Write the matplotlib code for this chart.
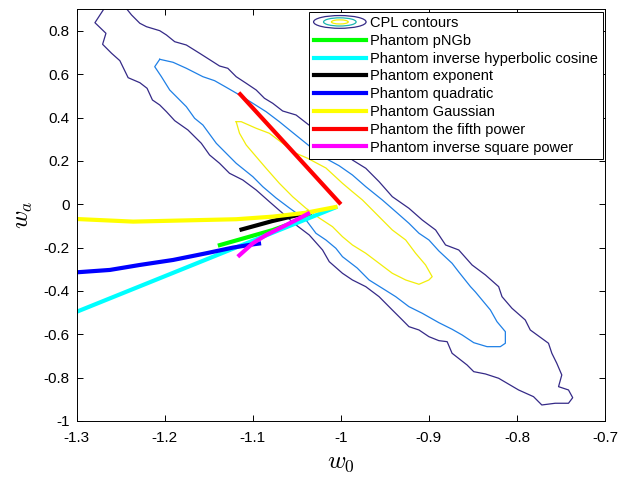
import matplotlib
matplotlib.use("Agg")
import matplotlib.pyplot as plt
from matplotlib.patches import Ellipse
from matplotlib.legend_handler import HandlerBase
from matplotlib.lines import Line2D

plt.rcParams["font.family"] = ["Liberation Sans", "DejaVu Sans"]
plt.rcParams["mathtext.fontset"] = "cm"
plt.rcParams["axes.unicode_minus"] = False

# ---- CPL contours (w0, wa) ----
outer_w0 = [-1.2699, -1.2487, -1.2377, -1.2283, -1.2208, -1.2057, -1.1981, -1.1887,
            -1.1755, -1.1604, -1.1454, -1.1378, -1.1284, -1.1189, -1.1075, -1.0962,
            -1.0868, -1.0774, -1.0661, -1.0509, -1.0378, -1.0132, -0.9869, -0.9717,
            -0.9566, -0.9416, -0.9227, -0.9076, -0.8924, -0.8811, -0.8661, -0.8510,
            -0.8358, -0.8208, -0.8170, -0.8057, -0.7906, -0.7849, -0.7642, -0.7604,
            -0.7548, -0.7491, -0.7528, -0.7415, -0.7367, -0.7415, -0.7566, -0.7718,
            -0.7812, -0.7982, -0.8208, -0.8358, -0.8491, -0.8567, -0.8737, -0.8793,
            -0.8887, -0.9000, -0.9113, -0.9227, -0.9302, -0.9416, -0.9566, -0.9717,
            -0.9869, -0.9982, -1.0132, -1.0208, -1.0359, -1.0509, -1.0661, -1.0812,
            -1.0962, -1.1114, -1.1265, -1.1378, -1.1491, -1.1585, -1.1737, -1.1887,
            -1.1981, -1.2057, -1.2140, -1.2201, -1.2283, -1.2416, -1.2510, -1.2604,
            -1.2706, -1.2668, -1.2793, -1.2699, -1.2699]
outer_wa = [0.929, 0.929, 0.8736, 0.8353, 0.8196, 0.8011, 0.7813, 0.7503,
            0.7351, 0.6968, 0.6580, 0.6382, 0.6276, 0.5888, 0.5584, 0.5275,
            0.4892, 0.4661, 0.4305, 0.4121, 0.3706, 0.2967, 0.2044, 0.1661,
            0.1043, 0.0351, -0.0185, -0.0725, -0.1186, -0.1878, -0.2109, -0.2801,
            -0.3263, -0.3802, -0.4264, -0.4799, -0.5339, -0.5801, -0.6414, -0.6876,
            -0.7337, -0.7877, -0.8417, -0.8569, -0.8925, -0.9183, -0.9183, -0.9262,
            -0.8879, -0.8569, -0.8030, -0.7831, -0.7725, -0.7416, -0.6876, -0.6341,
            -0.6294, -0.6110, -0.5801, -0.5648, -0.5339, -0.4878, -0.4264, -0.3802,
            -0.3493, -0.3184, -0.2649, -0.2109, -0.1417, -0.0955, -0.0415, 0.0120,
            0.0660, 0.1121, 0.1431, 0.1892, 0.2275, 0.2815, 0.3429, 0.3858,
            0.4273, 0.4582, 0.4813, 0.5353, 0.5611, 0.5842, 0.6627, 0.6968,
            0.7383, 0.7891, 0.8380, 0.8966, 0.929]

mid_w0 = [-1.2057, -1.1906, -1.1755, -1.1567, -1.1434, -1.1302, -1.1151, -1.1000,
          -1.0849, -1.0699, -1.0548, -1.0396, -1.0208, -1.0019, -0.9869, -0.9717,
          -0.9529, -0.9377, -0.9227, -0.9113, -0.9000, -0.8887, -0.8737, -0.8661,
          -0.8528, -0.8472, -0.8302, -0.8227, -0.8132, -0.8132, -0.8189, -0.8340,
          -0.8491, -0.8623, -0.8737, -0.8887, -0.9076, -0.9227, -0.9377, -0.9529,
          -0.9680, -0.9815, -0.9982, -1.0057, -1.0170, -1.0283, -1.0396, -1.0585,
          -1.0736, -1.0887, -1.1000, -1.1189, -1.1302, -1.1415, -1.1567, -1.1661,
          -1.1755, -1.1850, -1.1944, -1.2038, -1.2114, -1.2057]
mid_wa = [0.6691, 0.6553, 0.6276, 0.5888, 0.5704, 0.5399, 0.5044, 0.4661,
          0.4273, 0.3812, 0.3313, 0.2815, 0.2197, 0.1777, 0.1352, 0.0812,
          0.0198, -0.0341, -0.0877, -0.1338, -0.1647, -0.2155, -0.2723, -0.3124,
          -0.3802, -0.4047, -0.4878, -0.5418, -0.5879, -0.6414, -0.6571, -0.6571,
          -0.6387, -0.6031, -0.5768, -0.5464, -0.5030, -0.4725, -0.4264, -0.3876,
          -0.3493, -0.2940, -0.2418, -0.2030, -0.1647, -0.1338, -0.0725, -0.0171,
          0.0291, 0.0812, 0.1274, 0.1892, 0.2353, 0.2815, 0.3659, 0.3969,
          0.4504, 0.4892, 0.5275, 0.5888, 0.6350, 0.6691]

inner_w0 = [-1.1189, -1.1132, -1.0962, -1.0812, -1.0661, -1.0509, -1.0378, -1.0170,
            -0.9982, -0.9869, -0.9755, -0.9642, -0.9529, -0.9416, -0.9264, -0.9151,
            -0.9038, -0.8963, -0.9000, -0.9113, -0.9264, -0.9416, -0.9566, -0.9717,
            -0.9869, -0.9982, -1.0095, -1.0246, -1.0396, -1.0548, -1.0699, -1.0849,
            -1.0962, -1.1075, -1.1151, -1.1189]
inner_wa = [0.3812, 0.3812, 0.3507, 0.3276, 0.2815, 0.2353, 0.2123, 0.1675,
            0.0969, 0.0581, 0.0198, -0.0263, -0.0725, -0.1186, -0.1647, -0.2261,
            -0.2801, -0.3341, -0.3493, -0.3692, -0.3493, -0.3184, -0.2723, -0.2261,
            -0.1878, -0.1495, -0.1034, -0.0632, -0.0185, 0.0351, 0.0969, 0.1661,
            0.2197, 0.2736, 0.3276, 0.3812]

# ---- phantom model trajectories ----
pngb_w0 = [-1.1397, -1.0774, -1.0321]
pngb_wa = [-0.191, -0.119, -0.053]
cosh_w0 = [-1.30, -1.15, -1.004]
cosh_wa = [-0.496, -0.250, -0.011]
expo_w0 = [-1.1151, -1.0774, -1.0359]
expo_wa = [-0.119, -0.077, -0.037]
quad_w0 = [-1.30, -1.2623, -1.2283, -1.1906, -1.1528, -1.1227, -1.100, -1.0906]
quad_wa = [-0.314, -0.303, -0.280, -0.257, -0.226, -0.200, -0.185, -0.180]
gauss_w0 = [-1.30, -1.2359, -1.1189, -1.0774, -1.0396, -1.0038]
gauss_wa = [-0.068, -0.080, -0.069, -0.057, -0.039, -0.011]
fifth_w0 = [-1.0, -1.058, -1.116]
fifth_wa = [0.0, 0.258, 0.515]
invsq_w0 = [-1.1171, -1.100, -1.0849, -1.0623, -1.0472, -1.0351]
invsq_wa = [-0.242, -0.180, -0.142, -0.096, -0.065, -0.039]

labels = ["CPL contours", "Phantom pNGb", "Phantom inverse hyperbolic cosine",
          "Phantom exponent", "Phantom quadratic", "Phantom Gaussian",
          "Phantom the fifth power", "Phantom inverse square power"]

contour_colors = ["#352a87", "#1f80e6", "#f2ee0a"]
legend_icon_colors = ["#352a87", "#1cb5b0", "#f2ee0a"]


class HandlerContornos(HandlerBase):
    """Icone da legenda: tres elipses concentricas."""
    def create_artists(self, legend, orig, xd, yd, w, h, fs, trans):
        cx, cy = xd + w / 2, yd + h / 2
        arts = []
        for k, (fw, fh) in enumerate([(1.0, 1.25), (0.62, 0.8), (0.32, 0.4)]):
            e = Ellipse((cx, cy), w * fw, h * fh, fill=False,
                        edgecolor=legend_icon_colors[k], lw=0.9, transform=trans)
            arts.append(e)
        return arts


fig = plt.figure(figsize=(6.34, 4.8), dpi=100)
ax = fig.add_axes([0.121, 0.123, 0.8333, 0.8577])

ax.plot(outer_w0, outer_wa, color=contour_colors[0], lw=0.9)
ax.plot(mid_w0, mid_wa, color=contour_colors[1], lw=0.9)
ax.plot(inner_w0, inner_wa, color=contour_colors[2], lw=0.9)

lw = 3.0
series = [(pngb_w0, pngb_wa, "#00ff00"),
          (cosh_w0, cosh_wa, "#00ffff"),
          (expo_w0, expo_wa, "black"),
          (quad_w0, quad_wa, "#0000ff"),
          (gauss_w0, gauss_wa, "#ffff00"),
          (fifth_w0, fifth_wa, "#ff0000"),
          (invsq_w0, invsq_wa, "#ff00ff")]
for xs, ys, cor in series:
    ax.plot(xs, ys, color=cor, lw=lw, solid_capstyle="butt")

ax.set_xlim(-1.3, -0.7)
ax.set_ylim(-1.0, 0.9)
ax.set_xticks([-1.3, -1.2, -1.1, -1.0, -0.9, -0.8, -0.7])
ax.set_xticklabels(["-1.3", "-1.2", "-1.1", "-1", "-0.9", "-0.8", "-0.7"])
ax.set_yticks([-1.0, -0.8, -0.6, -0.4, -0.2, 0.0, 0.2, 0.4, 0.6, 0.8])
ax.set_yticklabels(["-1", "-0.8", "-0.6", "-0.4", "-0.2", "0", "0.2", "0.4", "0.6", "0.8"])
ax.tick_params(direction="in", top=True, right=True, length=4, width=0.7,
               labelsize=11)
ax.tick_params(axis="x", pad=7)
ax.tick_params(axis="y", pad=5)
for s in ax.spines.values():
    s.set_linewidth(0.7)

ax.set_xlabel("$w_0$", fontsize=18, labelpad=4)
ax.set_ylabel("$w_a$", fontsize=18, labelpad=6)

handles = [object()] + [Line2D([], [], color=cor, lw=lw) for _, _, cor in series]
leg = ax.legend(handles, labels, handler_map={object: HandlerContornos()},
                loc="upper right", bbox_to_anchor=(0.9956, 0.9942),
                borderaxespad=0, fontsize=10.5, fancybox=False, framealpha=1,
                edgecolor="black", handlelength=3.6, handletextpad=0.3,
                labelspacing=0.26, borderpad=0.3)
leg.get_frame().set_linewidth(0.7)

fig.savefig("out.png", dpi=100)
